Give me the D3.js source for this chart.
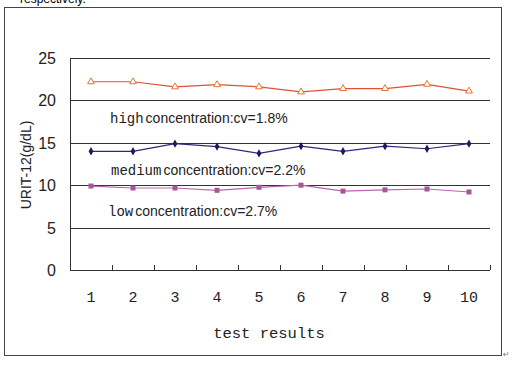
<!DOCTYPE html>
<html><head><meta charset="utf-8">
<script src="https://cdn.jsdelivr.net/npm/d3@7"></script>
<style>body{margin:0;background:#fff;}svg{display:block;}</style>
</head><body>
<script>
const categories = ["1","2","3","4","5","6","7","8","9","10"];
const highValues = [22.2,22.2,21.6,21.85,21.6,21.0,21.4,21.4,21.9,21.1];
const mediumValues = [14.0,14.0,14.9,14.55,13.75,14.6,14.0,14.6,14.3,14.9];
const lowValues = [9.9,9.67,9.67,9.4,9.75,10.0,9.3,9.45,9.55,9.2];
const yTicks = [0,5,10,15,20,25];
const labels = ["high concentration:cv=1.8%","medium concentration:cv=2.2%","low concentration:cv=2.7%"];

const W=512,H=365;
const svg=d3.select("body").append("svg").attr("width",W).attr("height",H);
svg.append("text").attr("x",20).attr("y",3).attr("font-family","Liberation Sans, Arial").attr("font-size",12).attr("fill","#000").text("respectively.");
svg.append("rect").attr("x",4.5).attr("y",7.5).attr("width",497).attr("height",348).attr("fill","none").attr("stroke","#444").attr("stroke-width",1);
svg.append("text").attr("x",503).attr("y",357).attr("font-family","DejaVu Sans").attr("font-size",8).attr("fill","#777").text("↵");

const x=d3.scaleBand().domain(categories).range([70,490]);
const y=d3.scaleLinear().domain([0,25]).range([270,58]);

svg.append("g").selectAll("line").data(yTicks).join("line")
 .attr("x1",70).attr("x2",490).attr("y1",d=>Math.round(y(d))+0.5).attr("y2",d=>Math.round(y(d))+0.5)
 .attr("stroke","#333").attr("stroke-width",1);
svg.append("line").attr("x1",70.5).attr("x2",70.5).attr("y1",58).attr("y2",270).attr("stroke","#333");
svg.append("g").selectAll("text").data(yTicks).join("text")
 .attr("x",56).attr("y",d=>y(d)+6).attr("text-anchor","end")
 .attr("font-family","Liberation Sans, Arial").attr("font-size",16).attr("fill","#222").text(d=>d);
const tickPos=categories.map((c,i)=>x(c)+x.bandwidth());
svg.append("g").selectAll("line").data(tickPos).join("line")
 .attr("x1",d=>Math.round(d)+0.5).attr("x2",d=>Math.round(d)+0.5).attr("y1",270).attr("y2",265)
 .attr("stroke","#333");
svg.append("g").selectAll("text").data(categories).join("text")
 .attr("x",d=>x(d)+x.bandwidth()/2).attr("y",302).attr("text-anchor","middle")
 .attr("font-family","Liberation Mono, monospace").attr("font-size",15).attr("fill","#222").text(d=>d);
svg.append("text").attr("x",269).attr("y",338).attr("text-anchor","middle")
 .attr("font-family","Liberation Mono, monospace").attr("font-size",15.5).attr("fill","#222").text("test results");
svg.append("text").attr("transform","translate(31,165) rotate(-90)").attr("text-anchor","middle")
 .attr("font-family","Liberation Sans, Arial").attr("font-size",14).attr("fill","#222").text("URIT-12(g/dL)");

const cx=d=>x(d)+x.bandwidth()/2;
const line=d3.line().x((v,i)=>cx(categories[i])).y(v=>y(v));
svg.append("path").datum(highValues).attr("d",line).attr("fill","none").attr("stroke","#E0503A").attr("stroke-width",1.2);
svg.append("g").selectAll("path").data(highValues).join("path")
 .attr("d",d3.symbol(d3.symbolTriangle,20)()).attr("transform",(v,i)=>`translate(${cx(categories[i])},${y(v)})`)
 .attr("fill","#fff").attr("stroke","#E8782A").attr("stroke-width",1);
svg.append("path").datum(mediumValues).attr("d",line).attr("fill","none").attr("stroke","#2A2A78").attr("stroke-width",1.2);
svg.append("g").selectAll("path").data(mediumValues).join("path")
 .attr("d",d3.symbol(d3.symbolDiamond,20)()).attr("transform",(v,i)=>`translate(${cx(categories[i])},${y(v)})`)
 .attr("fill","#1A1A5E");
svg.append("path").datum(lowValues).attr("d",line).attr("fill","none").attr("stroke","#B768AC").attr("stroke-width",1.2);
svg.append("g").selectAll("rect.m").data(lowValues).join("rect")
 .attr("x",(v,i)=>cx(categories[i])-2.5).attr("y",v=>y(v)-2.5).attr("width",5).attr("height",5)
 .attr("fill","#A8559C");

const ann=[{x:110,y:123,w:labels[0]},{x:111,y:175,w:labels[1]},{x:108,y:216,w:labels[2]}];
ann.forEach(a=>{
 const parts=a.w.split(" ");
 const t=svg.append("text").attr("x",a.x).attr("y",a.y).attr("fill","#222");
 t.append("tspan").attr("font-family","Liberation Mono, monospace").attr("font-size",14).text(parts[0]);
 t.append("tspan").attr("font-family","Liberation Sans, Arial").attr("font-size",14).attr("dx",2).text(parts.slice(1).join(" "));
});
</script>
</body></html>
